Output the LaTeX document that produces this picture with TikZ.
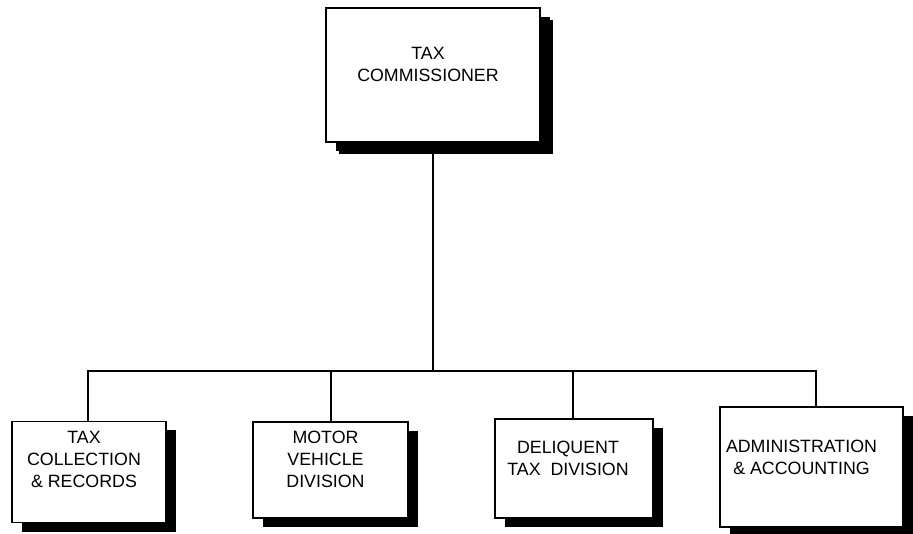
\documentclass[tikz,border=0pt]{standalone}
\usepackage{fontspec}
\setmainfont{Liberation Sans}
\usepackage{tikz}
\usetikzlibrary{positioning,shadows}
\tikzset{
  office/.style={draw, line width=1.8pt, fill=white, inner sep=0pt,
    drop shadow={shadow xshift=10pt, shadow yshift=-9pt, opacity=1, fill=black}},
  chief/.style={office, minimum width=214pt, minimum height=134pt,
    drop shadow={shadow xshift=13pt, shadow yshift=-12pt, opacity=1, fill=black}},
  officetext/.style={anchor=north, align=center, inner sep=0pt,
    font=\fontsize{17.8}{22}\selectfont},
  link/.style={line width=1.5pt}
}

\begin{document}
\begin{tikzpicture}[x=1pt,y=1pt]
  \useasboundingbox (0,0) rectangle (913,533);

  % head of the office
  \node[chief] (comm) at (433,458) {};
  \node[officetext] (commtext) at ([xshift=-5pt,yshift=-40pt]comm.north) {TAX\\COMMISSIONER};

  % the four divisions
  \node[office, minimum width=154pt, minimum height=101pt] (coll) at (89,61) {};
  \node[office, minimum width=155pt, minimum height=96pt] (motor) at (330.5,63) {};
  \node[office, minimum width=158pt, minimum height=99pt] (delq) at (574,64.5) {};
  \node[office, minimum width=183pt, minimum height=120pt] (admin) at (811.5,66) {};

  \node[officetext] (colltext) at ([xshift=-5pt,yshift=-10pt]coll.north) {TAX\\COLLECTION\\\& RECORDS};
  \node[officetext] (motortext) at ([xshift=-5pt,yshift=-10pt]motor.north) {MOTOR\\VEHICLE\\DIVISION};
  \node[officetext] (delqtext) at ([xshift=-6pt,yshift=-23pt]delq.north) {DELIQUENT\\TAX~~DIVISION};
  \node[officetext] (admintext) at ([xshift=-10pt,yshift=-34pt]admin.north) {ADMINISTRATION\\\& ACCOUNTING};

  % reporting lines
  \coordinate (bus) at (433,162);
  \draw[link] (comm.south) -- (bus);
  \draw[link] (coll.north -| 88,0) |- (bus);
  \draw[link] (admin.north -| 816,0) |- (bus);
  \draw[link] (motor.north -| 331,0) -- (331,162);
  \draw[link] (delq.north -| 573,0) -- (573,162);
\end{tikzpicture}
\end{document}
